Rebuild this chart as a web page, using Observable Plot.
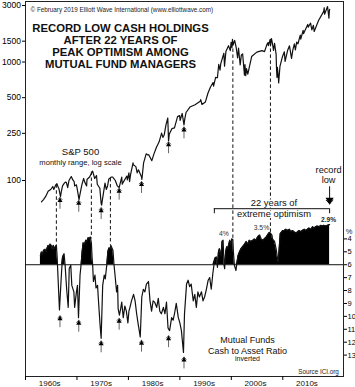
<!DOCTYPE html>
<html><head><meta charset="utf-8">
<script src="https://cdn.jsdelivr.net/npm/d3@7"></script>
<script src="https://cdn.jsdelivr.net/npm/@observablehq/plot@0.6"></script>
<style>
body{margin:0;background:#fff}
#wrap{position:relative;width:355px;height:387px;overflow:hidden;background:#fff}
#wrap svg{position:absolute;left:0;top:0}
</style></head><body><div id="wrap"></div>
<script>
// S&P 500 (decimal year, index level)
const spMonthly = [
[1963.1,66],[1963.5,69],[1963.9,73],[1964.4,81],[1964.9,84],[1965.3,89],[1965.5,84],[1965.9,92],
[1966.1,94],[1966.3,89],[1966.5,85],[1966.7,77],[1966.8,73],[1966.95,80],[1967.2,90],[1967.55,95],
[1967.75,97],[1967.95,96],[1968.2,87],[1968.45,100],[1968.9,108],[1969.2,101],[1969.45,98],[1969.55,90],
[1969.9,92],[1970.05,85],[1970.4,69],[1970.5,73],[1970.95,92],[1971.3,104],[1971.55,96],[1971.88,90],
[1971.95,102],[1972.45,107],[1972.95,118],[1973.04,120],[1973.45,104],[1973.8,110],[1973.95,93],[1974.45,86],
[1974.7,64],[1974.8,62],[1974.95,69],[1975.45,95],[1975.7,84],[1975.95,90],[1976.2,103],[1976.7,107],
[1976.95,107],[1977.45,100],[1977.85,90],[1978.2,87],[1978.7,107],[1978.8,93],[1978.95,96],[1979.7,109],
[1979.8,101],[1979.95,108],[1980.1,116],[1980.22,98],[1980.45,114],[1980.9,141],[1980.95,136],[1981.45,131],
[1981.7,116],[1981.95,123],[1982.55,107],[1982.62,102],[1982.95,141],[1983.45,168],[1983.8,164],[1983.95,165],
[1984.55,147],[1984.95,167],[1985.45,191],[1985.95,211],[1986.45,251],[1986.7,231],[1986.95,242],[1987.3,295],
[1987.65,337],[1987.8,216],[1987.95,247],[1988.45,274],[1988.95,278],[1989.55,346],[1989.95,353],[1990.05,322],
[1990.45,368],[1990.8,295],[1990.95,330],[1991.2,375],[1991.95,417],[1992.95,436],[1993.95,466],[1994.05,482],
[1994.3,438],[1994.95,459],[1995.45,545],[1995.95,616],[1996.45,671],[1996.55,626],[1996.95,741],[1997.3,737],
[1997.55,954],[1997.8,855],[1997.95,970],[1998.55,1186],[1998.68,923],[1998.95,1229],[1999.45,1373],[1999.8,1247],
[1999.95,1469],[2000.12,1325],[2000.22,1553],[2000.35,1400],[2000.65,1520],[2000.95,1320],[2001.22,1081],[2001.4,1312],
[2001.72,945],[2001.95,1148],[2002.2,1170],[2002.55,776],[2002.65,950],[2002.8,768],[2002.95,880],[2003.2,789],
[2003.95,1112],[2004.95,1212],[2005.95,1248],[2006.45,1224],[2006.95,1418],[2007.15,1461],[2007.2,1374],[2007.55,1555],
[2007.62,1371],[2007.8,1576],[2007.95,1468],[2008.2,1256],[2008.4,1440],[2008.7,1166],[2008.8,840],[2008.88,741],
[2008.95,903],[2009.15,735],[2009.2,667],[2009.45,919],[2009.95,1115],[2010.3,1219],[2010.45,1011],[2010.95,1258],
[2011.3,1370],[2011.7,1075],[2011.95,1258],[2012.25,1422],[2012.45,1267],[2012.7,1474],[2012.95,1426],[2013.4,1687],
[2013.5,1560],[2013.95,1848],[2014.05,1737],[2014.85,2075],[2014.95,1972],[2015.4,2134],[2015.65,1867],[2015.95,2044],
[2016.1,1810],[2016.95,2239],[2017.95,2674],[2018.05,2873],[2018.12,2533],[2018.7,2940],[2018.85,2603],[2018.97,2346],
[2019.05,2704],[2019.12,2784]
];
// Mutual fund cash-to-asset ratio, % (decimal year, percent)
const cashRatio = [
[1962.9,5.3],[1963.1,5.0],[1963.3,5.2],[1963.5,4.9],[1963.8,4.8],[1964.0,5.0],[1964.2,4.7],[1964.4,4.5],
[1964.6,4.6],[1964.8,4.4],[1965.0,4.5],[1965.2,4.8],[1965.4,4.5],[1965.6,4.8],[1965.8,4.6],[1966.0,4.5],
[1966.15,5.4],[1966.3,6.8],[1966.6,9.5],[1967.0,6.6],[1967.2,5.4],[1967.5,5.15],[1967.7,6.05],[1968.0,7.9],
[1968.3,9.3],[1968.5,6.3],[1968.8,6.05],[1969.0,7.6],[1969.4,8.1],[1969.55,9.3],[1969.9,8.1],[1970.1,7.6],
[1970.3,10.1],[1970.6,6.8],[1970.8,6.0],[1971.0,5.0],[1971.2,4.3],[1971.5,4.4],[1971.7,4.1],[1971.9,4.2],
[1972.2,3.9],[1972.4,4.0],[1972.6,3.85],[1972.8,4.3],[1972.95,5.5],[1973.05,6.0],[1973.2,7.3],[1973.5,6.8],
[1973.7,7.8],[1974.0,7.6],[1974.2,8.9],[1974.5,10.7],[1974.7,11.7],[1975.0,7.6],[1975.3,6.8],[1975.5,7.1],
[1975.8,6.0],[1976.0,5.0],[1976.2,4.7],[1976.4,4.8],[1976.6,4.5],[1976.8,4.7],[1977.0,4.9],[1977.2,6.0],
[1977.4,6.8],[1977.7,8.1],[1977.9,7.6],[1978.0,9.4],[1978.25,9.9],[1978.5,9.4],[1978.7,8.9],[1979.0,10.1],
[1979.3,9.2],[1979.6,9.6],[1979.9,10.5],[1980.1,9.6],[1980.3,9.3],[1980.6,8.8],[1981.0,8.3],[1981.3,8.8],
[1981.6,9.8],[1981.9,10.6],[1982.3,11.6],[1982.6,8.5],[1982.9,7.9],[1983.2,8.1],[1983.5,7.5],[1983.9,7.3],
[1984.2,8.8],[1984.5,9.6],[1984.8,8.8],[1985.1,8.9],[1985.5,9.3],[1985.8,8.6],[1986.1,9.6],[1986.4,9.8],
[1986.8,9.3],[1987.1,9.8],[1987.4,8.9],[1987.7,10.9],[1988.0,11.1],[1988.4,10.1],[1988.7,10.3],[1989.0,9.7],
[1989.3,9.0],[1989.7,10.1],[1990.0,10.5],[1990.3,11.1],[1990.7,12.8],[1990.9,9.8],[1991.3,7.5],[1991.6,7.2],
[1991.9,7.7],[1992.2,7.5],[1992.6,8.8],[1992.9,8.3],[1993.2,9.3],[1993.5,8.1],[1993.8,8.5],[1994.2,8.1],
[1994.5,8.8],[1994.8,8.5],[1995.1,8.0],[1995.5,7.2],[1995.8,7.0],[1996.1,7.9],[1996.4,6.7],[1996.8,5.5],
[1997.1,5.4],[1997.3,6.2],[1997.5,5.0],[1997.7,4.75],[1998.0,5.3],[1998.2,4.2],[1998.4,4.1],[1998.6,6.05],
[1998.7,6.3],[1998.9,5.0],[1999.1,4.6],[1999.3,4.75],[1999.7,4.1],[1999.9,4.4],[2000.1,4.0],[2000.3,4.05],
[2000.4,5.0],[2000.6,6.05],[2000.9,6.45],[2001.1,5.8],[2001.3,5.3],[2001.6,5.0],[2001.9,4.75],[2002.2,4.6],
[2002.6,4.4],[2002.9,4.2],[2003.2,4.4],[2003.5,4.1],[2003.8,4.2],[2004.2,4.1],[2004.5,4.0],[2004.8,4.1],
[2005.1,3.85],[2005.5,3.7],[2005.8,4.0],[2006.1,4.1],[2006.4,4.0],[2006.8,3.85],[2007.1,3.65],[2007.4,3.5],
[2007.6,3.55],[2007.9,3.7],[2008.0,4.0],[2008.4,4.2],[2008.7,4.75],[2008.9,5.3],[2009.1,5.8],[2009.3,4.75],
[2009.5,3.6],[2010.0,3.35],[2010.3,3.35],[2010.6,3.25],[2010.9,3.35],[2011.3,3.25],[2011.6,3.45],[2011.9,3.35],
[2012.2,3.45],[2012.6,3.55],[2012.9,3.45],[2013.2,3.35],[2013.5,3.45],[2013.8,3.35],[2014.2,3.25],[2014.5,3.35],
[2014.8,3.25],[2015.1,3.15],[2015.5,3.25],[2015.8,3.05],[2016.1,3.15],[2016.4,3.05],[2016.7,3.0],[2017.1,3.05],
[2017.4,2.95],[2017.7,3.0],[2018.0,2.95],[2018.4,3.0],[2018.7,2.95],[2019.0,2.9],[2019.1,2.9]
];
// Market bottoms marked with arrows
const arrowYears = [1966.7, 1970.35, 1974.7, 1978.2, 1982.55, 1987.8, 1990.8];
const spArrowTips = [72, 68, 59, 86, 98, 212, 283];
const cashArrowTips = [9.95, 10.3, 11.9, 10.15, 11.85, 11.5, 13.15];
// Market peaks linked by dashed lines
const peakYears = [1966.0, 1972.8, 1976.5, 2000.3, 2007.6];
const peakSP = [92, 118, 104, 1450, 1450];
const peakCash = [4.5, 4.0, 4.5, 4.0, 3.5];
const peakLabels = ["", "", "", "4%", "3.5%"];
// Axis ticks and labels
const decadeTicks = [1960, 1970, 1980, 1990, 2000, 2010];
const decadeLabels = ["1960s", "1970s", "1980s", "1990s", "2000s", "2010s"];
const spTicks = [100, 250, 500, 1000, 1500, 3000];
const cashTicks = [4, 5, 6, 7, 8, 9, 10, 11, 12, 13];
const baseline = 6;
const optimismStart = 1996.7, recordYear = 2019.1, recordValue = 2.9;

const title = "RECORD LOW CASH HOLDINGS\nAFTER 22 YEARS OF\nPEAK OPTIMISM AMONG\nMUTUAL FUND MANAGERS";
const copyright = "© February 2019 Elliott Wave International (www.elliottwave.com)";

const W = 355, H = 387;
const M = {marginLeft: 25, marginRight: 12, marginTop: 1, marginBottom: 11};
const xOpts = {domain: [1960, 2021.8]};
const ySPOpts = {type: "log", domain: [100, 3000], range: [180, 5]};
const yCashOpts = {type: "linear", domain: [4, 13], range: [238.4, 354.6]};
const ySP = Plot.scale({y: ySPOpts});
const yCash = Plot.scale({y: yCashOpts});
const font = "'Liberation Sans', Arial, Helvetica, sans-serif";

const spData = spMonthly.map(([year, value]) => ({year, value}));
const cashData = cashRatio.map(([year, value]) => ({year, value}));
const arrows = arrowYears.map((year, i) => ({year, sp: spArrowTips[i], cash: cashArrowTips[i]}));
const peaks = peakYears.map((year, i) => ({year, sp: peakSP[i], cash: peakCash[i], label: peakLabels[i]}));
const rec = [{year: recordYear, value: recordValue, start: optimismStart}];

const chartA = Plot.plot({
  width: W, height: H, ...M,
  style: {fontFamily: font, background: "white"},
  x: {...xOpts, axis: null},
  y: ySPOpts,
  marks: [
    Plot.axisY({ticks: spTicks, tickSize: 3, tickPadding: 1.5, tickFormat: d => String(d), fontSize: 8.5, label: null}),
    Plot.line(spData, {x: "year", y: "value", stroke: "#111", strokeWidth: 1.2}),
    Plot.vector(arrows, {x: "year", y: "sp", length: 11, anchor: "end", rotate: 0, stroke: "#666", strokeWidth: 1}),
    Plot.dot(arrows, {x: "year", y: "sp", symbol: "triangle", r: 1.9, fill: "black", dy: 3}),
    Plot.text([copyright], {frameAnchor: "top-left", dx: 5, dy: 6, fontSize: 6.3, textAnchor: "start", fill: "#222"}),
    Plot.text([title], {frameAnchor: "top-left", dx: 95, dy: 45, fontSize: 11.3, fontWeight: "bold", lineHeight: 1.06, textAnchor: "middle", lineAnchor: "middle", fill: "#111"}),
    Plot.text(["S&P 500"], {frameAnchor: "top-left", dx: 55, dy: 147, fontSize: 9.5, textAnchor: "middle", fill: "#111"}),
    Plot.text(["monthly range, log scale"], {frameAnchor: "top-left", dx: 55, dy: 158, fontSize: 7.6, textAnchor: "middle", fill: "#111"})
  ]
});

const chartB = Plot.plot({
  width: W, height: H, ...M,
  style: {fontFamily: font, background: "transparent"},
  x: xOpts,
  y: yCashOpts,
  marks: [
    Plot.frame({stroke: "#222"}),
    Plot.ruleX(peaks, {x: "year", y1: d => yCash.invert(ySP.apply(d.sp)), y2: "cash", strokeDasharray: "3.5,2.5", stroke: "#111", strokeWidth: 1}),
    Plot.areaY(cashData, {x: "year", y1: () => baseline, y2: d => Math.min(d.value, baseline), fill: "black"}),
    Plot.ruleY([baseline], {stroke: "#111", strokeWidth: 1}),
    Plot.line(cashData, {x: "year", y: "value", stroke: "#111", strokeWidth: 1.2}),
    Plot.vector(arrows, {x: "year", y: "cash", length: 11, anchor: "end", rotate: 0, stroke: "#666", strokeWidth: 1}),
    Plot.dot(arrows, {x: "year", y: "cash", symbol: "triangle", r: 1.9, fill: "black", dy: 3}),
    Plot.text(peaks, {x: "year", y: "cash", text: "label", dx: -9, dy: -5, fontSize: 6.8, fill: "#333"}),
    Plot.text(rec, {x: "year", y: "value", text: () => "2.9%", dx: -1, dy: -5.2, fontSize: 6.6, fontWeight: "bold", fill: "#222"}),
    Plot.text(rec, {x: d => (d.start + d.year) / 2, y: "value", text: () => "22 years of\nextreme optimism", dx: 2, dy: -16.5, lineHeight: 1.14, fontSize: 9.4, fill: "#111", stroke: "white", strokeWidth: 3}),
    Plot.ruleY(rec, {x1: "start", x2: "year", y: "value", dy: -16, stroke: "#111", strokeWidth: 1}),
    Plot.ruleX([optimismStart, recordYear], {x: d => d, y1: () => recordValue, y2: () => recordValue, dy: -16, insetBottom: -5, stroke: "#111", strokeWidth: 1}),
    Plot.text(rec, {x: "year", y: "value", text: () => "record\nlow", dx: -1, dy: -50, lineHeight: 1.12, fontSize: 9.2, fill: "#111"}),
    Plot.vector(rec, {x: "year", y: "value", length: 17, anchor: "end", rotate: 180, dy: -21, stroke: "#111", strokeWidth: 1}),
    Plot.dot(rec, {x: "year", y: "value", symbol: "triangle", rotate: 180, r: 3, fill: "black", dy: -24.7}),
    Plot.text(["Mutual Funds"], {frameAnchor: "top-left", dx: 222, dy: 334.7, fontSize: 9, textAnchor: "middle", fill: "#111"}),
    Plot.text(["Cash to Asset Ratio"], {frameAnchor: "top-left", dx: 222, dy: 345.7, fontSize: 9, textAnchor: "middle", fill: "#111"}),
    Plot.text(["inverted"], {frameAnchor: "top-left", dx: 222, dy: 355, fontSize: 7, textAnchor: "middle", fill: "#111"}),
    Plot.text(["Source ICI.org"], {frameAnchor: "top-left", dx: 293, dy: 368.3, fontSize: 6.3, textAnchor: "middle", fill: "#222"}),
    Plot.text(["%"], {frameAnchor: "top-right", dx: 5.5, dy: 226.7, fontSize: 7.5, textAnchor: "middle", fill: "#222"}),
    Plot.axisX({ticks: decadeTicks, tickSize: 4, tickFormat: () => "", label: null}),
    Plot.text(decadeLabels, {x: (d, i) => decadeTicks[i] + 4.7, frameAnchor: "bottom", dy: 9, fontSize: 8, fill: "#111"}),
    Plot.axisY({anchor: "right", ticks: cashTicks, tickSize: 3, tickPadding: 1, fontSize: 7.5, label: null})
  ]
});

const wrap = document.getElementById("wrap");
wrap.appendChild(chartA);
wrap.appendChild(chartB);
</script></body></html>
